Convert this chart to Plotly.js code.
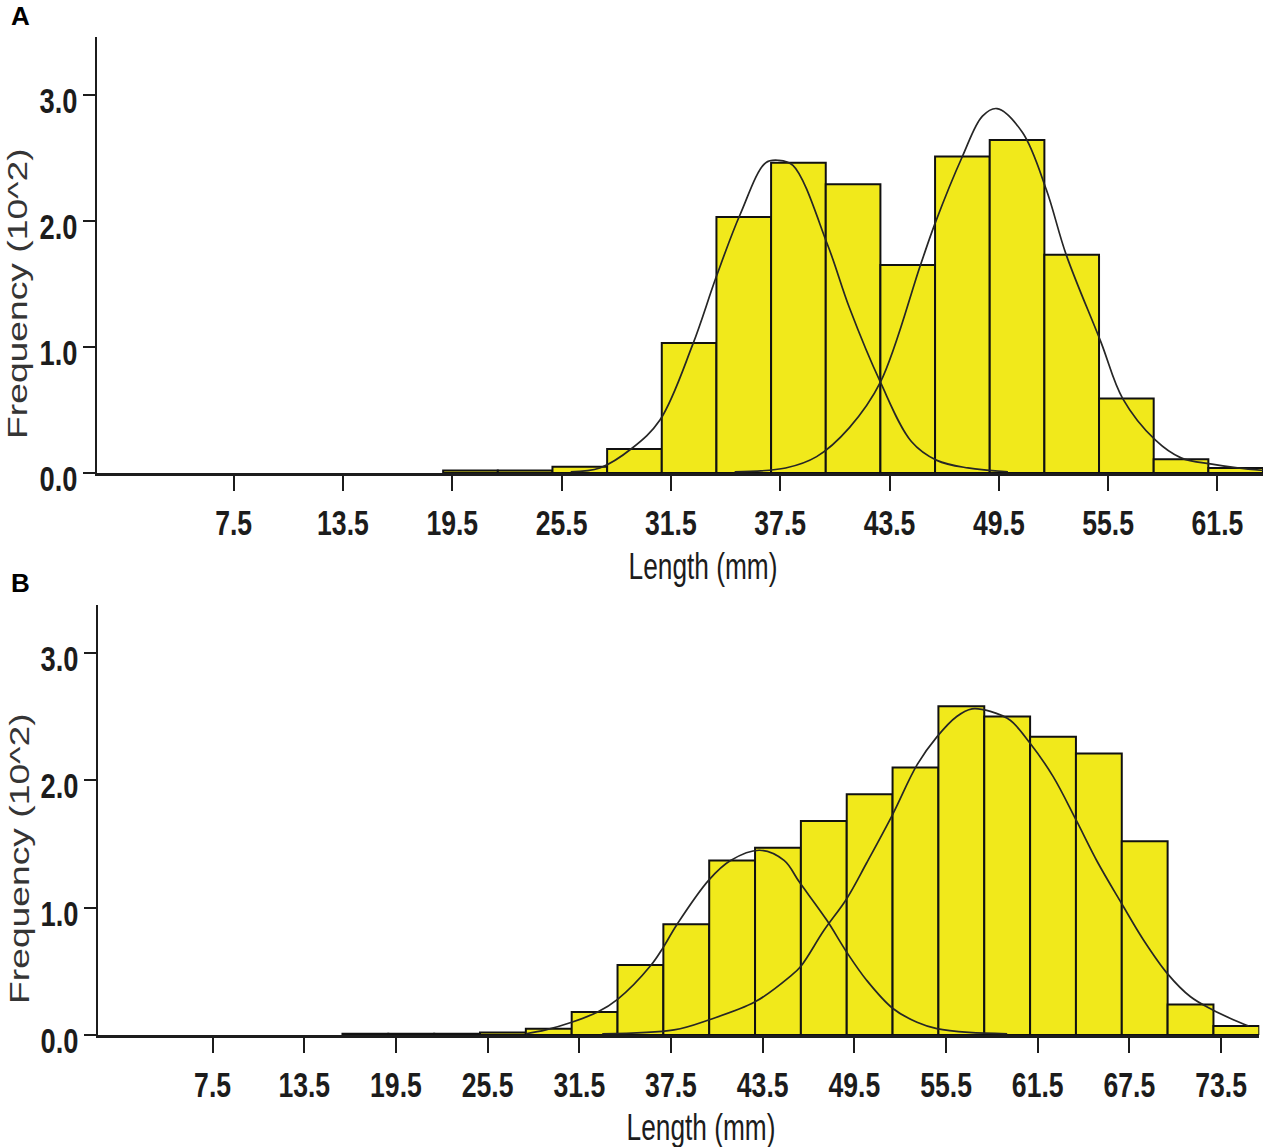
<!DOCTYPE html>
<html>
<head>
<meta charset="utf-8">
<script src="https://cdn.plot.ly/plotly-3.0.1.min.js"></script>
<style>
  html, body { margin: 0; padding: 0; background: #ffffff; }
  #chart { width: 1277px; height: 1147px; }
</style>
</head>
<body>
<div id="chart"></div>
<script>
// ---------- Panel A data ----------
const binCentersA = [20.5, 23.5, 26.5, 29.5, 32.5, 35.5, 38.5, 41.5, 44.5, 47.5, 50.5, 53.5, 56.5, 59.5, 62.5];
const freqA       = [0.02, 0.02, 0.05, 0.19, 1.03, 2.03, 2.46, 2.29, 1.65, 2.51, 2.64, 1.73, 0.59, 0.11, 0.04];

const curveA1x = [26.0, 27.6, 29.4, 30.9, 32.7, 34.0, 35.3, 36.7, 37.4, 38.2, 40.1, 41.3, 43.0, 44.7, 46.1, 47.8, 50.0];
const curveA1y = [0.01, 0.04, 0.20, 0.42, 1.02, 1.56, 2.05, 2.46, 2.48, 2.44, 1.81, 1.31, 0.72, 0.25, 0.10, 0.04, 0.01];

const curveA2x = [35.0, 37.8, 39.5, 41.3, 43.0, 45.2, 46.0, 47.5, 48.6, 49.4, 50.8, 52.1, 53.2, 55.1, 56.3, 58.1, 59.5, 61.2, 62.6, 64.0];
const curveA2y = [0.01, 0.04, 0.13, 0.36, 0.72, 1.65, 1.98, 2.51, 2.83, 2.89, 2.70, 2.25, 1.73, 1.04, 0.59, 0.26, 0.12, 0.07, 0.04, 0.02];

// ---------- Panel B data ----------
const binCentersB = [17.5, 20.5, 23.5, 26.5, 29.5, 32.5, 35.5, 38.5, 41.5, 44.5, 47.5, 50.5, 53.5, 56.5, 59.5, 62.5, 65.5, 68.5, 71.5, 74.5];
const freqB       = [0.01, 0.01, 0.01, 0.02, 0.05, 0.18, 0.55, 0.87, 1.37, 1.47, 1.68, 1.89, 2.10, 2.58, 2.50, 2.34, 2.21, 1.52, 0.24, 0.07];

const curveB1x = [28.0, 29.3, 31.0, 32.7, 34.0, 36.2, 37.0, 37.9, 40.0, 41.4, 43.3, 44.9, 45.9, 47.7, 49.0, 50.3, 52.0, 53.6, 54.9, 57.0, 59.5];
const curveB1y = [0.01, 0.04, 0.10, 0.18, 0.28, 0.55, 0.69, 0.87, 1.22, 1.37, 1.45, 1.37, 1.20, 0.90, 0.65, 0.43, 0.21, 0.10, 0.05, 0.02, 0.01];

const curveB2x = [33.0, 37.7, 40.0, 43.0, 45.3, 46.0, 47.5, 49.0, 50.3, 52.0, 53.6, 54.9, 56.2, 57.2, 58.4, 59.7, 61.0, 62.5, 64.0, 65.4, 67.0, 68.4, 70.0, 71.5, 72.9, 74.3, 75.3];
const curveB2y = [0.01, 0.04, 0.12, 0.26, 0.46, 0.54, 0.82, 1.07, 1.35, 1.73, 2.12, 2.34, 2.50, 2.56, 2.54, 2.47, 2.29, 2.03, 1.69, 1.36, 1.03, 0.75, 0.48, 0.30, 0.20, 0.12, 0.07];

// ---------- Axis labels ----------
const xTickVals = [7.5, 13.5, 19.5, 25.5, 31.5, 37.5, 43.5, 49.5, 55.5, 61.5, 67.5, 73.5];
const yTickVals = [0, 1, 2, 3];
const xTitle = 'Length (mm)';
const yTitle = 'Frequency (10^2)';
const binWidth = 3;

// ---------- Styling ----------
const W = 1277, H = 1147;
const barYellow = '#f1e91b';
const ink = '#1c1c1c';
const sans = '"Liberation Sans", Arial, sans-serif';

function px(x) { return x / W; }
function py(y) { return 1 - y / H; }

function barTrace(x, y, xa, ya) {
  return {
    type: 'bar', x: x, y: y, width: binWidth, xaxis: xa, yaxis: ya,
    marker: { color: barYellow, line: { color: '#111111', width: 2 } },
    hoverinfo: 'skip', showlegend: false
  };
}
function curveTrace(x, y, xa, ya) {
  return {
    type: 'scatter', mode: 'lines', x: x, y: y, xaxis: xa, yaxis: ya,
    line: { color: '#262626', width: 1.7, shape: 'spline', smoothing: 1.0 },
    hoverinfo: 'skip', showlegend: false, cliponaxis: false
  };
}

const data = [
  barTrace(binCentersA, freqA, 'x', 'y'),
  curveTrace(curveA1x, curveA1y, 'x', 'y'),
  curveTrace(curveA2x, curveA2y, 'x', 'y'),
  barTrace(binCentersB, freqB, 'x2', 'y2'),
  curveTrace(curveB1x, curveB1y, 'x2', 'y2'),
  curveTrace(curveB2x, curveB2y, 'x2', 'y2')
];

function xAxis(domain, range, anchor) {
  const vals = xTickVals.filter(v => v <= range[1]);
  return {
    domain: domain, range: range, anchor: anchor,
    showline: true, linecolor: ink, linewidth: 2.5,
    showgrid: false, zeroline: false,
    ticks: 'outside', ticklen: 15, tickwidth: 2, tickcolor: ink,
    tickmode: 'array', tickvals: vals, ticktext: vals.map(v => v.toFixed(1)),
    ticklabelstandoff: 3,
    tickfont: { family: sans, size: 35, color: ink, weight: 'bold' },
    fixedrange: true
  };
}
function yAxis(domain, range, anchor) {
  return {
    domain: domain, range: range, anchor: anchor,
    showline: true, linecolor: ink, linewidth: 2.5,
    showgrid: false, zeroline: false,
    ticks: 'outside', ticklen: 12, tickwidth: 2, tickcolor: ink,
    tickmode: 'array', tickvals: yTickVals, ticktext: yTickVals.map(v => v.toFixed(1)),
    ticklabelstandoff: -2,
    tickfont: { family: sans, size: 35, color: ink, weight: 'bold' },
    fixedrange: true
  };
}

const layout = {
  width: W, height: H,
  margin: { l: 0, r: 0, t: 0, b: 0 },
  paper_bgcolor: '#ffffff', plot_bgcolor: 'rgba(0,0,0,0)',
  barmode: 'overlay', bargap: 0,
  showlegend: false,
  xaxis:  xAxis([px(97), px(1263)], [0, 64], 'y'),
  yaxis:  yAxis([py(473), py(36.7)], [0, 3.46], 'x'),
  xaxis2: xAxis([px(98), px(1259.3)], [0, 76], 'y2'),
  yaxis2: yAxis([py(1035), py(605)], [0, 3.375], 'x2'),
  annotations: [
    { text: 'A', xref: 'paper', yref: 'paper', x: px(9), y: py(16), xanchor: 'left', yanchor: 'middle',
      showarrow: false, font: { family: sans, size: 26, color: '#000', weight: 'bold' } },
    { text: 'B', xref: 'paper', yref: 'paper', x: px(9), y: py(583), xanchor: 'left', yanchor: 'middle',
      showarrow: false, font: { family: sans, size: 26, color: '#000', weight: 'bold' } },
    { text: xTitle, xref: 'paper', yref: 'paper', x: px(703), y: py(566), xanchor: 'center', yanchor: 'middle',
      showarrow: false, font: { family: sans, size: 36, color: ink } },
    { text: xTitle, xref: 'paper', yref: 'paper', x: px(701), y: py(1127), xanchor: 'center', yanchor: 'middle',
      showarrow: false, font: { family: sans, size: 36, color: ink } },
    { text: yTitle, xref: 'paper', yref: 'paper', x: px(18), y: py(294), xanchor: 'center', yanchor: 'middle',
      textangle: -90, showarrow: false, font: { family: sans, size: 27, color: '#353535' } },
    { text: yTitle, xref: 'paper', yref: 'paper', x: px(20), y: py(859), xanchor: 'center', yanchor: 'middle',
      textangle: -90, showarrow: false, font: { family: sans, size: 27, color: '#353535' } }
  ]
};

// The reference image is stretched vertically; mimic that on the text by
// scaling each text element along its own baseline after Plotly has drawn it.
function stretchText(el, sx, anchor, dy) {
  const b = el.getBBox();
  const cx = anchor === 'end' ? b.x + b.width : b.x + b.width / 2;
  const prev = el.getAttribute('transform') || '';
  el.setAttribute('transform',
    prev + ' translate(' + cx + ',' + (dy || 0) + ') scale(' + sx + ',1) translate(' + (-cx) + ',0)');
}

Plotly.newPlot('chart', data, layout, { displayModeBar: false, staticPlot: true }).then(function (gd) {
  gd.querySelectorAll('.xtick text, .x2tick text').forEach(el => stretchText(el, 0.76, 'middle', 0));
  gd.querySelectorAll('.ytick text, .y2tick text').forEach(el => stretchText(el, 0.78, 'end', 6));
  gd.querySelectorAll('.annotation').forEach(g => {
    const idx = +g.getAttribute('data-index');
    const t = g.querySelector('text');
    if (!t) return;
    if (idx === 2 || idx === 3) stretchText(t, 0.73, 'middle', 0);
    if (idx === 4 || idx === 5) stretchText(t, 1.38, 'middle', 0);
  });
});
</script>
</body>
</html>
